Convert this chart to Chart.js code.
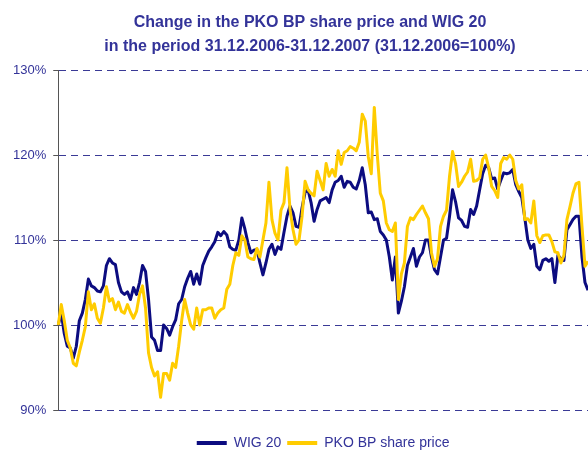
<!DOCTYPE html>
<html>
<head>
<meta charset="utf-8">
<script src="https://cdn.jsdelivr.net/npm/chart.js@4/dist/chart.umd.min.js"></script>
<style>
  body { margin: 0; overflow: hidden; background: #fff; }
  #wrap { position: relative; width: 588px; height: 455px; overflow: hidden; }
  #title {
    position: absolute; top: 10px; left: 0; width: 620px;
    text-align: center; font: bold 16px "Liberation Sans", Arial, sans-serif;
    line-height: 24px; color: #333399;
  }
  canvas { position: absolute; top: 0; left: 0; }
</style>
</head>
<body>
<div id="wrap">
  <canvas id="chart" width="588" height="460"></canvas>
  <div id="title">Change in the PKO BP share price and WIG 20<br>in the period 31.12.2006-31.12.2007 (31.12.2006=100%)</div>
</div>
<script>
// values, % of 31.12.2006 level
const wig20 = [
  100, 101.4, 99.0, 97.5, 97.3, 96.1, 97.5, 100.5, 101.4, 103.0,
  105.4, 104.6, 104.4, 104.0, 103.9, 104.6, 107.0, 107.8, 107.3, 107.1,
  105.0, 103.9, 103.6, 103.9, 103.0, 104.4, 103.6, 105.0, 107.0, 106.3,
  103.0, 98.6, 98.2, 97.0, 97.0, 100.0, 99.6, 98.8, 99.8, 100.6,
  102.5, 103.0, 104.5, 105.5, 106.3, 104.8, 106.0, 104.8, 107.0, 107.9,
  108.7, 109.2, 109.8, 110.9, 110.5, 111.0, 110.6, 109.2, 108.9, 108.8,
  110.0, 112.6, 111.3, 109.7, 108.5, 108.8, 108.9, 107.3, 105.9, 107.3,
  108.9, 109.5, 108.3, 109.2, 108.9, 110.9, 112.8, 114.0, 113.2, 111.6,
  111.5, 113.8, 115.6, 115.9, 114.4, 112.2, 113.6, 114.6, 114.8, 115.0,
  114.4, 115.9, 116.8, 117.0, 117.5, 116.2, 116.9, 116.8, 116.2, 116.0,
  117.0, 118.5, 116.5, 113.2, 113.3, 112.4, 112.5, 111.0, 110.6, 110.0,
  108.0, 105.3, 108.0, 101.4, 102.8, 104.5, 107.0, 108.0, 109.0, 106.9,
  108.0, 108.5, 110.0, 110.0, 108.0, 106.5, 106.0, 108.0, 110.0, 110.2,
  112.8, 115.9, 114.5, 112.6, 112.3, 111.6, 111.5, 113.6, 113.0, 114.0,
  115.9, 117.8, 118.8, 118.5, 117.2, 117.3, 116.0, 117.0, 117.9, 117.8,
  117.9, 118.3, 116.5, 115.7, 115.0, 112.6, 110.0, 109.0, 109.5, 106.9,
  106.5, 107.6, 107.8, 107.5, 107.8, 105.0, 108.2, 107.8, 107.6, 111.2,
  111.8, 112.4, 112.8, 112.8, 108.0, 105.0, 104.1
];
const pkoBp = [
  100, 102.4, 100.5, 98.2, 97.3, 95.5, 95.2, 96.8, 98.2, 99.8,
  103.9, 101.8, 102.5, 100.8, 100.2, 102.0, 104.5, 102.8, 103.1, 101.8,
  102.7, 101.6, 101.4, 102.4, 101.5, 100.8, 101.6, 103.6, 104.6, 102.0,
  96.7, 95.0, 94.0, 94.5, 91.5, 94.3, 94.3, 93.5, 95.5, 95.0,
  97.5, 100.5, 103.0, 101.4, 100.0, 99.5, 102.0, 100.0, 101.8, 101.8,
  102.0, 102.0, 100.8, 101.4, 101.8, 102.0, 104.2, 104.8, 107.0, 108.5,
  108.2, 110.5, 110.0, 108.0, 107.8, 107.7, 109.0, 108.0, 110.0, 112.0,
  116.8, 112.4, 110.8, 110.0, 113.5, 114.4, 118.5, 113.6, 111.2, 109.5,
  110.0, 112.8, 116.9, 115.9, 115.5, 115.2, 118.1, 117.0, 115.9, 119.0,
  117.5, 118.3, 117.5, 120.5, 118.9, 120.3, 120.5, 121.0, 120.8, 120.5,
  121.5, 124.8, 124.0, 119.8, 117.8, 125.6, 120.0, 115.5, 114.6, 112.0,
  111.2, 111.0, 112.0, 103.0, 106.0, 107.3, 111.6, 112.6, 112.4, 113.0,
  113.5, 114.0, 113.2, 112.5, 108.5, 106.9, 107.8, 111.6, 112.8, 113.5,
  117.5, 120.4, 119.0, 116.3, 116.8, 117.5, 118.0, 119.5, 116.9, 117.0,
  117.3, 119.5, 120.0, 118.5, 116.3, 115.8, 115.0, 119.0, 119.7, 119.5,
  120.0, 119.5, 117.0, 116.0, 116.5, 112.4, 112.5, 112.0, 114.6, 110.5,
  109.7, 110.5, 110.6, 110.6, 109.8, 108.6, 108.5, 107.3, 108.2, 112.4,
  113.9, 115.5, 116.6, 116.8, 111.6, 106.9, 107.5
];
const days = wig20.map((v, i) => i);
const yTicks = [90, 100, 110, 120, 130];

const navy = '#0c0c80';
const yellow = '#ffcc00';
const blueText = '#333399';

new Chart(document.getElementById('chart'), {
  type: 'line',
  data: {
    labels: days,
    datasets: [
      {
        label: 'WIG 20', data: wig20, order: 1,
        borderColor: navy, backgroundColor: navy, borderWidth: 3,
        pointRadius: 0, pointBorderColor: navy, pointBorderWidth: 4,
        tension: 0, borderJoinStyle: 'round'
      },
      {
        label: 'PKO BP share price', data: pkoBp, order: 0,
        borderColor: yellow, backgroundColor: yellow, borderWidth: 3,
        pointRadius: 0, pointBorderColor: yellow, pointBorderWidth: 4,
        tension: 0, borderJoinStyle: 'round'
      }
    ]
  },
  options: {
    responsive: false,
    animation: false,
    layout: { padding: { top: 70, left: 6, right: 0, bottom: 0 } },
    plugins: {
      title: { display: false },
      tooltip: { enabled: false },
      legend: {
        position: 'bottom',
        fullSize: false,
        labels: {
          usePointStyle: true,
          pointStyle: 'line',
          pointStyleWidth: 30,
          boxHeight: 14,
          padding: 6,
          color: blueText,
          font: { family: '"Liberation Sans", Arial, sans-serif', size: 14 },
          sort: (a, b) => a.datasetIndex - b.datasetIndex
        }
      }
    },
    scales: {
      x: {
        display: true,
        ticks: { display: false },
        grid: { drawOnChartArea: false, drawTicks: true, tickLength: 20, tickColor: 'rgba(0,0,0,0)' },
        border: { display: false }
      },
      y: {
        min: yTicks[0],
        max: yTicks[yTicks.length - 1],
        ticks: {
          stepSize: 10,
          padding: 7,
          color: blueText,
          font: { family: '"Liberation Sans", Arial, sans-serif', size: 13 },
          callback: v => v + '%'
        },
        grid: {
          color: '#3a3a96',
          lineWidth: 1,
          tickLength: 5,
          tickColor: '#555555',
          tickBorderDash: []
        },
        border: { display: true, color: '#555555', width: 1, dash: [7, 5] }
      }
    }
  }
});
</script>
</body>
</html>
